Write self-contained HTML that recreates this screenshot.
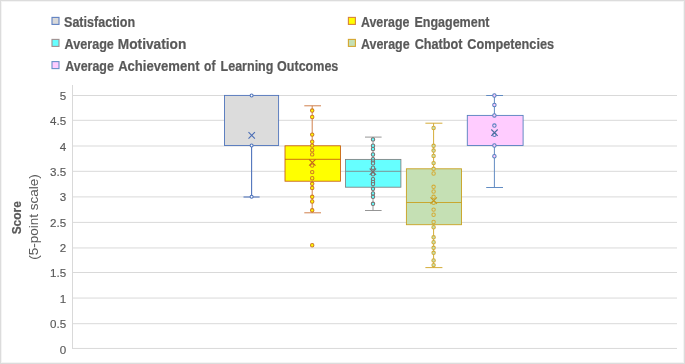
<!DOCTYPE html>
<html><head><meta charset="utf-8"><style>
html,body{margin:0;padding:0;background:#fff;}
svg{display:block;will-change:transform;font-family:"Liberation Sans",sans-serif;}
</style></head><body>
<svg width="685" height="364" viewBox="0 0 685 364">
<rect x="0.5" y="0.5" width="684" height="363" fill="#fff" stroke="#dcdcdc" stroke-width="1"/>
<rect x="1.5" y="1.5" width="682" height="361" fill="none" stroke="#f4f4f4" stroke-width="1"/>
<line x1="72" y1="348.45" x2="677" y2="348.45" stroke="#d9d9d9" stroke-width="1"/>
<line x1="72" y1="323.70" x2="677" y2="323.70" stroke="#d9d9d9" stroke-width="1"/>
<line x1="72" y1="298.05" x2="677" y2="298.05" stroke="#d9d9d9" stroke-width="1"/>
<line x1="72" y1="272.50" x2="677" y2="272.50" stroke="#d9d9d9" stroke-width="1"/>
<line x1="72" y1="247.95" x2="677" y2="247.95" stroke="#d9d9d9" stroke-width="1"/>
<line x1="72" y1="222.40" x2="677" y2="222.40" stroke="#d9d9d9" stroke-width="1"/>
<line x1="72" y1="196.90" x2="677" y2="196.90" stroke="#d9d9d9" stroke-width="1"/>
<line x1="72" y1="171.30" x2="677" y2="171.30" stroke="#d9d9d9" stroke-width="1"/>
<line x1="72" y1="146.00" x2="677" y2="146.00" stroke="#d9d9d9" stroke-width="1"/>
<line x1="72" y1="120.30" x2="677" y2="120.30" stroke="#d9d9d9" stroke-width="1"/>
<line x1="72" y1="95.50" x2="677" y2="95.50" stroke="#d9d9d9" stroke-width="1"/>
<line x1="72.5" y1="85" x2="72.5" y2="349" stroke="#d9d9d9" stroke-width="1"/>
<text x="66.1" y="353.60" text-anchor="end" font-size="11.6" fill="#595959" stroke="#595959" stroke-width="0.15">0</text>
<text x="66.1" y="328.23" text-anchor="end" font-size="11.6" fill="#595959" stroke="#595959" stroke-width="0.15">0.5</text>
<text x="66.1" y="302.85" text-anchor="end" font-size="11.6" fill="#595959" stroke="#595959" stroke-width="0.15">1</text>
<text x="66.1" y="277.48" text-anchor="end" font-size="11.6" fill="#595959" stroke="#595959" stroke-width="0.15">1.5</text>
<text x="66.1" y="252.10" text-anchor="end" font-size="11.6" fill="#595959" stroke="#595959" stroke-width="0.15">2</text>
<text x="66.1" y="226.72" text-anchor="end" font-size="11.6" fill="#595959" stroke="#595959" stroke-width="0.15">2.5</text>
<text x="66.1" y="201.35" text-anchor="end" font-size="11.6" fill="#595959" stroke="#595959" stroke-width="0.15">3</text>
<text x="66.1" y="175.97" text-anchor="end" font-size="11.6" fill="#595959" stroke="#595959" stroke-width="0.15">3.5</text>
<text x="66.1" y="150.60" text-anchor="end" font-size="11.6" fill="#595959" stroke="#595959" stroke-width="0.15">4</text>
<text x="66.1" y="125.22" text-anchor="end" font-size="11.6" fill="#595959" stroke="#595959" stroke-width="0.15">4.5</text>
<text x="66.1" y="99.85" text-anchor="end" font-size="11.6" fill="#595959" stroke="#595959" stroke-width="0.15">5</text>
<text transform="translate(20.9,217.75) rotate(-90)" text-anchor="middle" font-size="13.4" font-weight="bold" fill="#595959" stroke="#595959" stroke-width="0.2" textLength="33.2" lengthAdjust="spacingAndGlyphs">Score</text>
<text transform="translate(38.3,216.9) rotate(-90)" text-anchor="middle" font-size="13.7" fill="#595959" textLength="85.5" lengthAdjust="spacingAndGlyphs">(5-point scale)</text>
<rect x="52.0" y="17.4" width="7" height="7" fill="#d9d9d9" stroke="#5f80c2" stroke-width="1.1"/>
<rect x="348.4" y="17.4" width="7" height="7" fill="#ffff00" stroke="#d8843a" stroke-width="1.1"/>
<rect x="52.0" y="39.4" width="7" height="7" fill="#66ffff" stroke="#a09090" stroke-width="1.1"/>
<rect x="348.4" y="39.4" width="7" height="7" fill="#c5e0b4" stroke="#d4a630" stroke-width="1.1"/>
<rect x="52.0" y="61.6" width="7" height="7" fill="#ffccff" stroke="#6a8fc8" stroke-width="1.1"/>
<text x="64.02" y="27.0" font-size="14.0" font-weight="bold" fill="#595959" stroke="#595959" stroke-width="0.2" textLength="71.12" lengthAdjust="spacingAndGlyphs">Satisfaction</text>
<text x="360.97" y="27.0" font-size="14.0" font-weight="bold" fill="#595959" stroke="#595959" stroke-width="0.2" textLength="48.52" lengthAdjust="spacingAndGlyphs">Average</text>
<text x="414.43" y="27.0" font-size="14.0" font-weight="bold" fill="#595959" stroke="#595959" stroke-width="0.2" textLength="75.10" lengthAdjust="spacingAndGlyphs">Engagement</text>
<text x="64.58" y="49.0" font-size="14.0" font-weight="bold" fill="#595959" stroke="#595959" stroke-width="0.2" textLength="49.27" lengthAdjust="spacingAndGlyphs">Average</text>
<text x="117.80" y="49.0" font-size="14.0" font-weight="bold" fill="#595959" stroke="#595959" stroke-width="0.2" textLength="68.52" lengthAdjust="spacingAndGlyphs">Motivation</text>
<text x="360.97" y="49.0" font-size="14.0" font-weight="bold" fill="#595959" stroke="#595959" stroke-width="0.2" textLength="48.69" lengthAdjust="spacingAndGlyphs">Average</text>
<text x="414.63" y="49.0" font-size="14.0" font-weight="bold" fill="#595959" stroke="#595959" stroke-width="0.2" textLength="47.77" lengthAdjust="spacingAndGlyphs">Chatbot</text>
<text x="467.31" y="49.0" font-size="14.0" font-weight="bold" fill="#595959" stroke="#595959" stroke-width="0.2" textLength="86.73" lengthAdjust="spacingAndGlyphs">Competencies</text>
<text x="65.29" y="71.0" font-size="14.0" font-weight="bold" fill="#595959" stroke="#595959" stroke-width="0.2" textLength="48.55" lengthAdjust="spacingAndGlyphs">Average</text>
<text x="118.14" y="71.0" font-size="14.0" font-weight="bold" fill="#595959" stroke="#595959" stroke-width="0.2" textLength="81.38" lengthAdjust="spacingAndGlyphs">Achievement</text>
<text x="204.09" y="71.0" font-size="14.0" font-weight="bold" fill="#595959" stroke="#595959" stroke-width="0.2" textLength="11.37" lengthAdjust="spacingAndGlyphs">of</text>
<text x="220.55" y="71.0" font-size="14.0" font-weight="bold" fill="#595959" stroke="#595959" stroke-width="0.2" textLength="52.86" lengthAdjust="spacingAndGlyphs">Learning</text>
<text x="277.10" y="71.0" font-size="14.0" font-weight="bold" fill="#595959" stroke="#595959" stroke-width="0.2" textLength="61.25" lengthAdjust="spacingAndGlyphs">Outcomes</text>
<line x1="251.6" y1="145.5" x2="251.6" y2="197.0" stroke="#4f74bb" stroke-width="1.1"/>
<line x1="243.5" y1="197.0" x2="259.6" y2="197.0" stroke="#4f74bb" stroke-width="1.1"/>
<rect x="224.5" y="95.4" width="54.10" height="50.10" fill="#dcdcdc" stroke="#4f74bb" stroke-width="0.9"/>
<circle cx="251.6" cy="95.5" r="1.5" fill="#ffffff" stroke="#4f74bb" stroke-width="1.05"/>
<circle cx="251.6" cy="145.5" r="1.5" fill="#ffffff" stroke="#4f74bb" stroke-width="1.05"/>
<circle cx="251.6" cy="196.7" r="1.5" fill="#ffffff" stroke="#4f74bb" stroke-width="1.05"/>
<path d="M248.50 132.20L254.90 138.60M254.90 132.20L248.50 138.60" stroke="#4a6db5" stroke-width="1.1" fill="none"/>
<line x1="312.2" y1="105.8" x2="312.2" y2="145.8" stroke="#cf7a45" stroke-width="0.95"/>
<line x1="304.3" y1="105.8" x2="321.0" y2="105.8" stroke="#cf7a45" stroke-width="0.95"/>
<line x1="312.2" y1="181.2" x2="312.2" y2="212.8" stroke="#cf7a45" stroke-width="0.95"/>
<line x1="304.3" y1="212.8" x2="321.0" y2="212.8" stroke="#cf7a45" stroke-width="0.95"/>
<rect x="285.0" y="145.8" width="55.50" height="35.40" fill="#ffff00" stroke="#c55a11" stroke-width="0.85"/>
<line x1="285.0" y1="159.3" x2="340.5" y2="159.3" stroke="#c55a11" stroke-width="0.85"/>
<circle cx="312.2" cy="110.55" r="1.7" fill="#ffff00" stroke="#d07a25" stroke-width="1.05"/>
<circle cx="312.2" cy="117" r="1.7" fill="#ffff00" stroke="#d07a25" stroke-width="1.05"/>
<circle cx="312.2" cy="134.6" r="1.7" fill="#ffff00" stroke="#d07a25" stroke-width="1.05"/>
<circle cx="312.2" cy="141.7" r="1.7" fill="#ffff00" stroke="#d07a25" stroke-width="1.05"/>
<circle cx="312.2" cy="145.6" r="1.7" fill="#ffff00" stroke="#d07a25" stroke-width="1.05"/>
<circle cx="312.2" cy="150.2" r="1.7" fill="#ffff00" stroke="#d07a25" stroke-width="1.05"/>
<circle cx="312.2" cy="154.4" r="1.7" fill="#ffff00" stroke="#d07a25" stroke-width="1.05"/>
<circle cx="312.2" cy="165.6" r="1.7" fill="#ffff00" stroke="#d07a25" stroke-width="1.05"/>
<circle cx="312.2" cy="172.1" r="1.7" fill="#ffff00" stroke="#d07a25" stroke-width="1.05"/>
<circle cx="312.2" cy="178.2" r="1.7" fill="#ffff00" stroke="#d07a25" stroke-width="1.05"/>
<circle cx="312.2" cy="183.8" r="1.7" fill="#ffff00" stroke="#d07a25" stroke-width="1.05"/>
<circle cx="312.2" cy="187.9" r="1.7" fill="#ffff00" stroke="#d07a25" stroke-width="1.05"/>
<circle cx="312.2" cy="196.8" r="1.7" fill="#ffff00" stroke="#d07a25" stroke-width="1.05"/>
<circle cx="312.2" cy="201.5" r="1.7" fill="#ffff00" stroke="#d07a25" stroke-width="1.05"/>
<circle cx="312.2" cy="210.3" r="1.7" fill="#ffff00" stroke="#d07a25" stroke-width="1.05"/>
<circle cx="312.2" cy="245.25" r="1.7" fill="#ffff00" stroke="#d07a25" stroke-width="1.05"/>
<path d="M309.10 159.30L315.50 165.70M315.50 159.30L309.10 165.70" stroke="#c0661a" stroke-width="1.1" fill="none"/>
<line x1="373.0" y1="137.1" x2="373.0" y2="159.4" stroke="#8a8a8a" stroke-width="0.9"/>
<line x1="365.0" y1="137.1" x2="381.6" y2="137.1" stroke="#8a8a8a" stroke-width="0.9"/>
<line x1="373.0" y1="187.2" x2="373.0" y2="210.5" stroke="#8a8a8a" stroke-width="0.9"/>
<line x1="365.0" y1="210.5" x2="381.6" y2="210.5" stroke="#8a8a8a" stroke-width="0.9"/>
<rect x="345.5" y="159.4" width="55.40" height="27.80" fill="#66ffff" stroke="#7f7f7f" stroke-width="0.85"/>
<line x1="345.5" y1="171.3" x2="400.9" y2="171.3" stroke="#7f7f7f" stroke-width="0.85"/>
<circle cx="373.0" cy="139.4" r="1.7" fill="#66ffff" stroke="#7a7272" stroke-width="1.05"/>
<circle cx="373.0" cy="145.7" r="1.7" fill="#66ffff" stroke="#7a7272" stroke-width="1.05"/>
<circle cx="373.0" cy="149.0" r="1.7" fill="#66ffff" stroke="#7a7272" stroke-width="1.05"/>
<circle cx="373.0" cy="154.5" r="1.7" fill="#66ffff" stroke="#7a7272" stroke-width="1.05"/>
<circle cx="373.0" cy="159.1" r="1.7" fill="#66ffff" stroke="#7a7272" stroke-width="1.05"/>
<circle cx="373.0" cy="161.4" r="1.7" fill="#66ffff" stroke="#7a7272" stroke-width="1.05"/>
<circle cx="373.0" cy="163.3" r="1.7" fill="#66ffff" stroke="#7a7272" stroke-width="1.05"/>
<circle cx="373.0" cy="167.7" r="1.7" fill="#66ffff" stroke="#7a7272" stroke-width="1.05"/>
<circle cx="373.0" cy="174.3" r="1.7" fill="#66ffff" stroke="#7a7272" stroke-width="1.05"/>
<circle cx="373.0" cy="179.2" r="1.7" fill="#66ffff" stroke="#7a7272" stroke-width="1.05"/>
<circle cx="373.0" cy="181.9" r="1.7" fill="#66ffff" stroke="#7a7272" stroke-width="1.05"/>
<circle cx="373.0" cy="184.1" r="1.7" fill="#66ffff" stroke="#7a7272" stroke-width="1.05"/>
<circle cx="373.0" cy="188.8" r="1.7" fill="#66ffff" stroke="#7a7272" stroke-width="1.05"/>
<circle cx="373.0" cy="193.5" r="1.7" fill="#66ffff" stroke="#7a7272" stroke-width="1.05"/>
<circle cx="373.0" cy="196.8" r="1.7" fill="#66ffff" stroke="#7a7272" stroke-width="1.05"/>
<circle cx="373.0" cy="203.8" r="1.7" fill="#66ffff" stroke="#7a7272" stroke-width="1.05"/>
<path d="M369.70 168.50L376.10 174.90M376.10 168.50L369.70 174.90" stroke="#7a6a6a" stroke-width="1.1" fill="none"/>
<line x1="433.6" y1="123.2" x2="433.6" y2="168.8" stroke="#d2a82e" stroke-width="0.95"/>
<line x1="425.4" y1="123.2" x2="442.4" y2="123.2" stroke="#d2a82e" stroke-width="0.95"/>
<line x1="433.6" y1="224.7" x2="433.6" y2="267.6" stroke="#d2a82e" stroke-width="0.95"/>
<line x1="425.4" y1="267.6" x2="442.4" y2="267.6" stroke="#d2a82e" stroke-width="0.95"/>
<rect x="406.4" y="168.8" width="55.10" height="55.90" fill="#c5e0b4" stroke="#c8a021" stroke-width="0.9"/>
<line x1="406.4" y1="202.5" x2="461.5" y2="202.5" stroke="#c8a021" stroke-width="0.9"/>
<circle cx="433.6" cy="128" r="1.7" fill="#c5e0b4" stroke="#d4ac38" stroke-width="1.05"/>
<circle cx="433.6" cy="145.8" r="1.7" fill="#c5e0b4" stroke="#d4ac38" stroke-width="1.05"/>
<circle cx="433.6" cy="150.55" r="1.7" fill="#c5e0b4" stroke="#d4ac38" stroke-width="1.05"/>
<circle cx="433.6" cy="155.9" r="1.7" fill="#c5e0b4" stroke="#d4ac38" stroke-width="1.05"/>
<circle cx="433.6" cy="163.1" r="1.7" fill="#c5e0b4" stroke="#d4ac38" stroke-width="1.05"/>
<circle cx="433.6" cy="168.8" r="1.7" fill="#c5e0b4" stroke="#d4ac38" stroke-width="1.05"/>
<circle cx="433.6" cy="173.5" r="1.7" fill="#c5e0b4" stroke="#d4ac38" stroke-width="1.05"/>
<circle cx="433.6" cy="186.8" r="1.7" fill="#c5e0b4" stroke="#d4ac38" stroke-width="1.05"/>
<circle cx="433.6" cy="191.5" r="1.7" fill="#c5e0b4" stroke="#d4ac38" stroke-width="1.05"/>
<circle cx="433.6" cy="196.8" r="1.7" fill="#c5e0b4" stroke="#d4ac38" stroke-width="1.05"/>
<circle cx="433.6" cy="202.8" r="1.7" fill="#c5e0b4" stroke="#d4ac38" stroke-width="1.05"/>
<circle cx="433.6" cy="209.6" r="1.7" fill="#c5e0b4" stroke="#d4ac38" stroke-width="1.05"/>
<circle cx="433.6" cy="214.7" r="1.7" fill="#c5e0b4" stroke="#d4ac38" stroke-width="1.05"/>
<circle cx="433.6" cy="222" r="1.7" fill="#c5e0b4" stroke="#d4ac38" stroke-width="1.05"/>
<circle cx="433.6" cy="227.2" r="1.7" fill="#c5e0b4" stroke="#d4ac38" stroke-width="1.05"/>
<circle cx="433.6" cy="237.3" r="1.7" fill="#c5e0b4" stroke="#d4ac38" stroke-width="1.05"/>
<circle cx="433.6" cy="242.2" r="1.7" fill="#c5e0b4" stroke="#d4ac38" stroke-width="1.05"/>
<circle cx="433.6" cy="247.8" r="1.7" fill="#c5e0b4" stroke="#d4ac38" stroke-width="1.05"/>
<circle cx="433.6" cy="252.8" r="1.7" fill="#c5e0b4" stroke="#d4ac38" stroke-width="1.05"/>
<circle cx="433.6" cy="260.4" r="1.7" fill="#c5e0b4" stroke="#d4ac38" stroke-width="1.05"/>
<circle cx="433.6" cy="265.1" r="1.7" fill="#c5e0b4" stroke="#d4ac38" stroke-width="1.05"/>
<path d="M430.50 197.35L436.90 203.75M436.90 197.35L430.50 203.75" stroke="#c49a20" stroke-width="1.1" fill="none"/>
<line x1="494.4" y1="95.5" x2="494.4" y2="115.4" stroke="#5a86c0" stroke-width="0.95"/>
<line x1="486.2" y1="95.5" x2="503.0" y2="95.5" stroke="#5a86c0" stroke-width="0.95"/>
<line x1="494.4" y1="145.5" x2="494.4" y2="187.5" stroke="#5a86c0" stroke-width="0.95"/>
<line x1="486.2" y1="187.5" x2="503.0" y2="187.5" stroke="#5a86c0" stroke-width="0.95"/>
<rect x="467.3" y="115.4" width="55.80" height="30.10" fill="#ffccff" stroke="#5580be" stroke-width="0.9"/>
<circle cx="494.4" cy="95.5" r="1.7" fill="#ffccff" stroke="#5580be" stroke-width="1.05"/>
<circle cx="494.4" cy="105" r="1.7" fill="#ffccff" stroke="#5580be" stroke-width="1.05"/>
<circle cx="494.4" cy="115.4" r="1.7" fill="#ffccff" stroke="#5580be" stroke-width="1.05"/>
<circle cx="494.4" cy="125.55" r="1.7" fill="#ffccff" stroke="#5580be" stroke-width="1.05"/>
<circle cx="494.4" cy="134.8" r="1.7" fill="#ffccff" stroke="#5580be" stroke-width="1.05"/>
<circle cx="494.4" cy="145.5" r="1.7" fill="#ffccff" stroke="#5580be" stroke-width="1.05"/>
<circle cx="494.4" cy="156.2" r="1.7" fill="#ffccff" stroke="#5580be" stroke-width="1.05"/>
<path d="M491.30 129.50L497.70 135.90M497.70 129.50L491.30 135.90" stroke="#4d6f9f" stroke-width="1.1" fill="none"/>
</svg>
</body></html>
